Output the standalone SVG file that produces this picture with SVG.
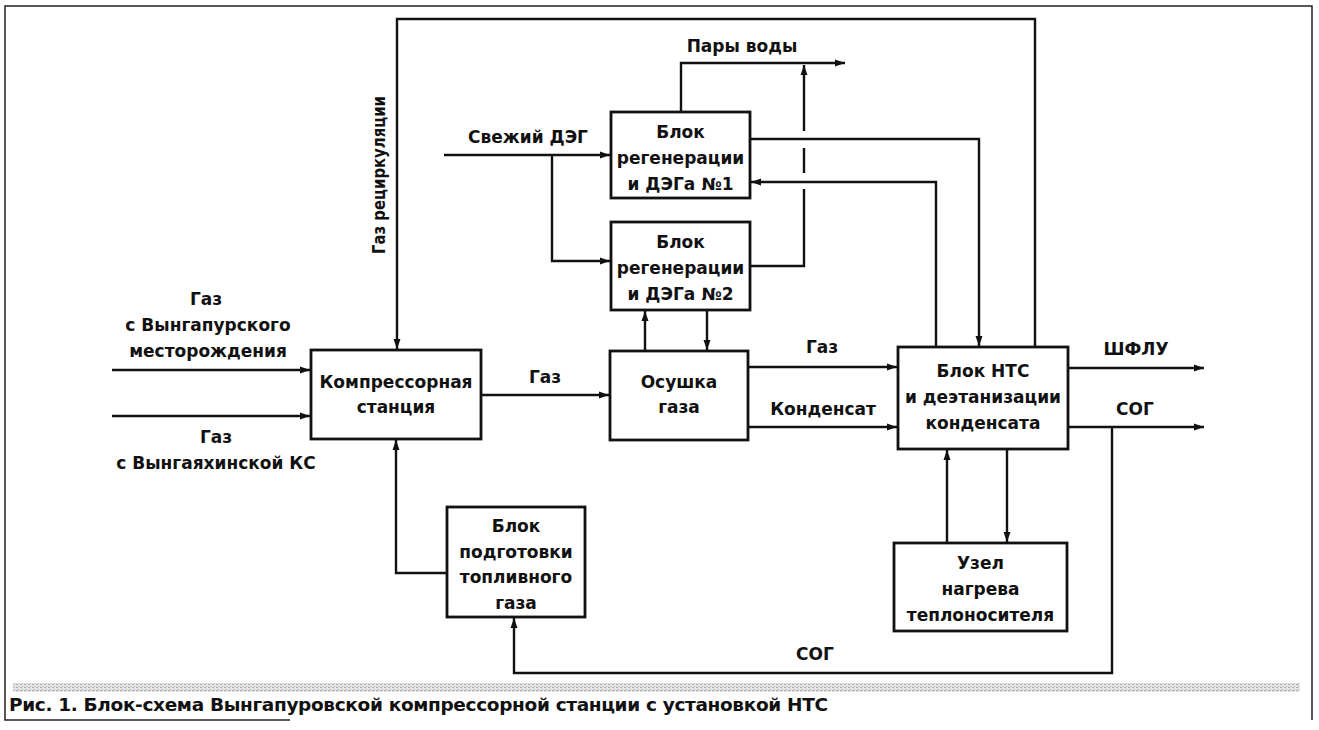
<svg xmlns="http://www.w3.org/2000/svg" width="1319" height="730" viewBox="0 0 1319 730">
<style>
text{font-family:"DejaVu Sans","Liberation Sans",sans-serif;font-weight:bold;font-size:17px;fill:#111;}
.c{text-anchor:middle;}
.cap{font-size:18.5px;}
.box{fill:#fff;stroke:#111;stroke-width:2.8;}
.ln{fill:none;stroke:#111;stroke-width:2.4;}
.ar{marker-end:url(#arr);}
.frame{fill:none;stroke:#222;stroke-width:1.5;}
</style>
<defs>
<marker id="arr" viewBox="-10 -4 11 8" markerWidth="11" markerHeight="8" refX="0" refY="0" orient="auto" markerUnits="userSpaceOnUse">
<path d="M-10,-3.5 L0,0 L-10,3.5 Z" fill="#111"/>
</marker>
<pattern id="dots" width="4" height="3" patternUnits="userSpaceOnUse">
<rect width="4" height="3" fill="#e6e6e6"/>
<rect width="2" height="1" fill="#a8a8a8"/>
<rect x="2" y="2" width="1" height="1" fill="#b8b8b8"/>
</pattern>
</defs>
<rect width="1319" height="730" fill="#fff"/>
<path class="frame" d="M290,720 H5 V6 H1312 V720"/>
<rect x="13" y="683" width="1287" height="9" fill="url(#dots)"/>
<text class="cap" x="9" y="711" textLength="819" lengthAdjust="spacing">Рис. 1. Блок-схема Вынгапуровской компрессорной станции с установкой НТС</text>

<g id="connectors">
<path class="ln ar" d="M112,370 H310"/>
<path class="ln ar" d="M112,416 H310"/>
<path class="ln ar" d="M481,395 H609"/>
<path class="ln ar" d="M1035,347 V19 H397 V349"/>
<path class="ln ar" d="M444,155 H610"/>
<path class="ln ar" d="M552,155 V261 H610"/>
<path class="ln ar" d="M681,112 V63 H845"/>
<path class="ln" d="M750,266 H804 V189"/>
<path class="ln" d="M804,173 V148"/>
<path class="ln ar" d="M804,131 V65"/>
<path class="ln ar" d="M750,139 H979 V346"/>
<path class="ln ar" d="M936,347 V182 H751"/>
<path class="ln ar" d="M645,351 V311"/>
<path class="ln ar" d="M707,310 V350"/>
<path class="ln ar" d="M748,367 H897"/>
<path class="ln ar" d="M748,427 H897"/>
<path class="ln ar" d="M1068,368 H1204"/>
<path class="ln ar" d="M1068,427 H1204"/>
<path class="ln ar" d="M1112,427 V673 H514 V618"/>
<path class="ln ar" d="M447,573 H396 V440"/>
<path class="ln ar" d="M947,543 V450"/>
<path class="ln ar" d="M1007,449 V542"/>
</g>

<g id="labels">
<text class="c" transform="translate(385,175) rotate(-90)" textLength="158" lengthAdjust="spacingAndGlyphs">Газ рециркуляции</text>
<text class="c" x="742" y="52">Пары воды</text>
<text class="c" x="528" y="143">Свежий ДЭГ</text>
<text class="c" x="206" y="305">Газ</text>
<text class="c" x="208" y="331">с Вынгапурского</text>
<text class="c" x="208" y="357">месторождения</text>
<text class="c" x="216" y="443">Газ</text>
<text class="c" x="216" y="469">с Вынгаяхинской КС</text>
<text class="c" x="545" y="383">Газ</text>
<text class="c" x="822" y="353">Газ</text>
<text class="c" x="823" y="415">Конденсат</text>
<text class="c" x="1136" y="355">ШФЛУ</text>
<text class="c" x="1135" y="415">СОГ</text>
<text class="c" x="815" y="660">СОГ</text>
</g>

<g id="compressor">
<rect class="box" x="311" y="350" width="170" height="89"/>
<text class="c" x="396" y="388">Компрессорная</text>
<text class="c" x="396" y="413">станция</text>
</g>
<g id="drying">
<rect class="box" x="610" y="351" width="138" height="89"/>
<text class="c" x="679" y="388">Осушка</text>
<text class="c" x="679" y="413">газа</text>
</g>
<g id="regen1">
<rect class="box" x="611" y="112" width="139" height="86"/>
<text class="c" x="680.5" y="138">Блок</text>
<text class="c" x="680.5" y="164">регенерации</text>
<text class="c" x="680.5" y="190">и ДЭГа №1</text>
</g>
<g id="regen2">
<rect class="box" x="611" y="222" width="139" height="88"/>
<text class="c" x="680.5" y="248">Блок</text>
<text class="c" x="680.5" y="274">регенерации</text>
<text class="c" x="680.5" y="300">и ДЭГа №2</text>
</g>
<g id="nts">
<rect class="box" x="898" y="347" width="170" height="102"/>
<text class="c" x="983" y="377">Блок НТС</text>
<text class="c" x="983" y="403">и деэтанизации</text>
<text class="c" x="983" y="429">конденсата</text>
</g>
<g id="heater">
<rect class="box" x="894" y="543" width="173" height="88"/>
<text class="c" x="980.5" y="569">Узел</text>
<text class="c" x="980.5" y="595">нагрева</text>
<text class="c" x="980.5" y="621">теплоносителя</text>
</g>
<g id="fuelgas">
<rect class="box" x="447" y="507" width="138" height="110"/>
<text class="c" x="516" y="532">Блок</text>
<text class="c" x="516" y="557.5">подготовки</text>
<text class="c" x="516" y="583">топливного</text>
<text class="c" x="516" y="608.5">газа</text>
</g>
</svg>
